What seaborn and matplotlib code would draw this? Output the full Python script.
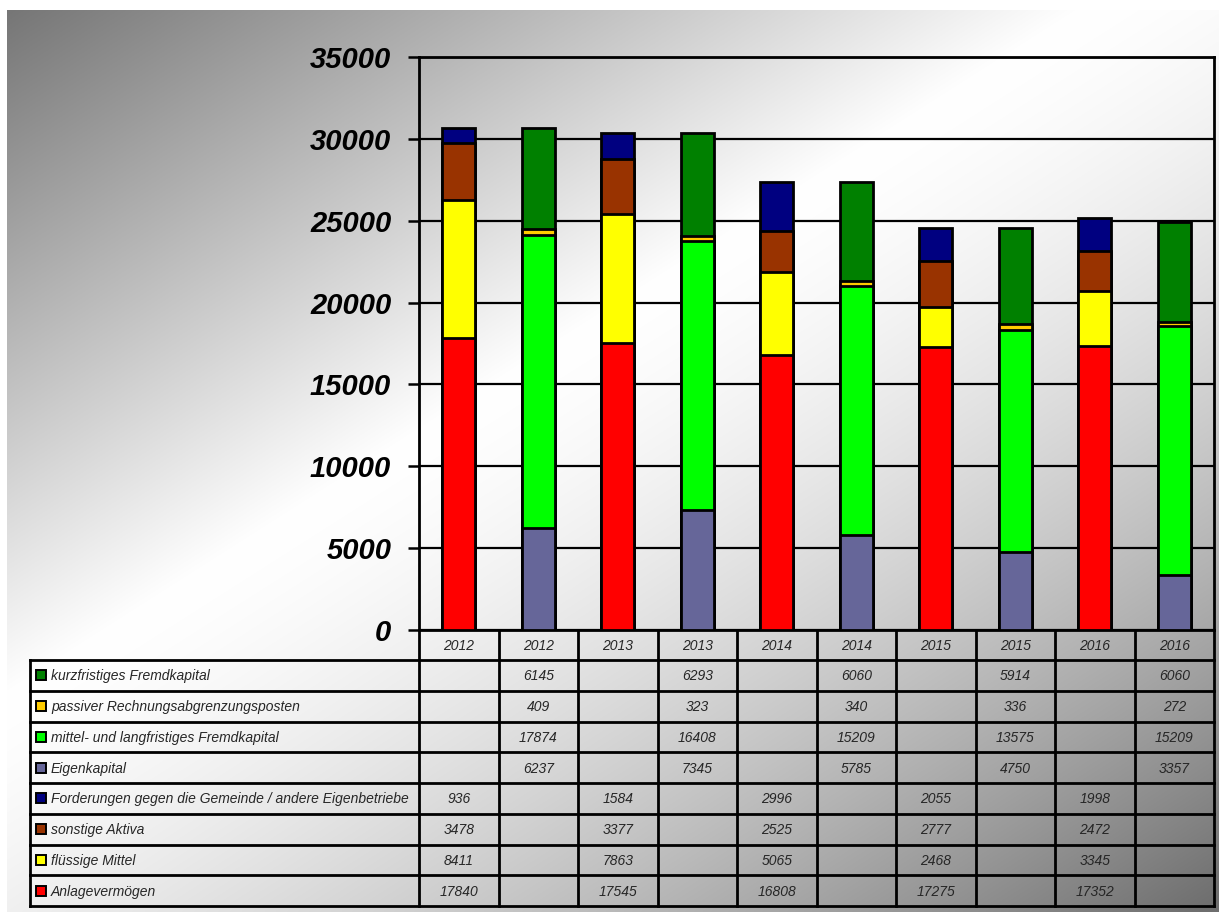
import numpy as np
import pandas as pd
import matplotlib
matplotlib.use("Agg")
import matplotlib.pyplot as plt
import seaborn as sns
from matplotlib import font_manager as fm
from matplotlib.patches import Rectangle

# ---------------- data ----------------
years = ["2012", "2012", "2013", "2013", "2014", "2014", "2015", "2015", "2016", "2016"]
series_names = [
    "Anlagevermögen",
    "flüssige Mittel",
    "sonstige Aktiva",
    "Forderungen gegen die Gemeinde / andere Eigenbetriebe",
    "Eigenkapital",
    "mittel- und langfristiges Fremdkapital",
    "passiver Rechnungsabgrenzungsposten",
    "kurzfristiges Fremdkapital",
]
anlage = [17840, None, 17545, None, 16808, None, 17275, None, 17352, None]
fluessig = [8411, None, 7863, None, 5065, None, 2468, None, 3345, None]
sonstige = [3478, None, 3377, None, 2525, None, 2777, None, 2472, None]
forder = [936, None, 1584, None, 2996, None, 2055, None, 1998, None]
eigen = [None, 6237, None, 7345, None, 5785, None, 4750, None, 3357]
mittel = [None, 17874, None, 16408, None, 15209, None, 13575, None, 15209]
prap = [None, 409, None, 323, None, 340, None, 336, None, 272]
kurz = [None, 6145, None, 6293, None, 6060, None, 5914, None, 6060]
series_values = [anlage, fluessig, sonstige, forder, eigen, mittel, prap, kurz]
colors = ["#FF0000", "#FFFF00", "#993300", "#000080", "#666699", "#00FF00", "#FFCC00", "#008000"]
yticks = [0, 5000, 10000, 15000, 20000, 25000, 30000, 35000]

# ---------------- fonts ----------------
avail = {f.name for f in fm.fontManager.ttflist}
narrow = "Liberation Sans Narrow" if "Liberation Sans Narrow" in avail else "Liberation Sans"
tab_size = 12 if narrow == "Liberation Sans Narrow" else 10

sns.set_style("white")
plt.rcParams["font.family"] = ["Liberation Sans", "DejaVu Sans"]

W, H = 1226, 921
fig = plt.figure(figsize=(W / 100, H / 100), dpi=100)
fig.patch.set_facecolor("white")

# ---------------- gradient background ----------------
bx0, by0, bx1, by1 = 7, 10, 1219, 912
bg = fig.add_axes([bx0 / W, 1 - by1 / H, (bx1 - bx0) / W, (by1 - by0) / H], zorder=-10)
px, py = np.meshgrid(np.linspace(bx0, bx1, 500), np.linspace(by0, by1, 400))
t = px / 1100.0 + py / 700.0
v = np.where(t < 1.0, 115 + 140 * t, 255 - 145 * np.clip((t - 1.0) / 1.4, 0, 1) ** 1.5)
v = np.clip(v, 0, 255) / 255.0
bg.imshow(np.dstack([v, v, v]), aspect="auto", extent=[0, 1, 1, 0], interpolation="bilinear")
bg.axis("off")

# ---------------- main axes ----------------
L, R, T, B = 419, 1214, 57, 630
ax = fig.add_axes([L / W, 1 - B / H, (R - L) / W, (B - T) / H])
ax.patch.set_alpha(0)

cols = list(range(len(years)))
vals = pd.DataFrame({n: pd.to_numeric(pd.Series(s, dtype="float")) for n, s in zip(series_names, series_values)})
cum = vals.fillna(0).cumsum(axis=1)

for i in reversed(range(len(series_names))):
    name = series_names[i]
    h = cum[name].where(vals[name].notna())
    df = pd.DataFrame({"col": cols, "h": h}).dropna()
    sns.barplot(data=df, x="col", y="h", order=cols, color=colors[i], saturation=1,
                edgecolor="black", linewidth=2.0, width=0.42, errorbar=None, ax=ax, zorder=3)

ax.set_ylim(0, 35000)
ax.set_xlim(-0.5, len(cols) - 0.5)
ax.set_yticks(yticks)
ax.set_yticklabels([str(v) for v in yticks], fontsize=21, fontweight="bold", fontstyle="italic")
ax.tick_params(axis="y", direction="out", length=8, width=1.8, pad=12, colors="black", left=True)
ax.tick_params(axis="x", length=0, labelbottom=False)
ax.set_xlabel("")
ax.set_ylabel("")
ax.grid(axis="y", color="black", linewidth=1.6, zorder=1)
ax.set_axisbelow(True)
for s in ax.spines.values():
    s.set_visible(True)
    s.set_color("black")
    s.set_linewidth(2.0)

# ---------------- data table ----------------
tax = fig.add_axes([0, 0, 1, 1], zorder=5)
tax.set_xlim(0, W)
tax.set_ylim(H, 0)
tax.axis("off")
tax.patch.set_alpha(0)

xlab = 30
colw = (R - L) / len(cols)
head_top, head_bot = B, 660
row_h = 30.75
n_rows = len(series_names)
y_bottom = head_bot + n_rows * row_h
lw = 2.0

for k in range(len(cols) + 1):
    x = L + k * colw
    tax.plot([x, x], [head_top, y_bottom], color="black", lw=lw, solid_capstyle="projecting")
tax.plot([xlab, xlab], [head_bot, y_bottom], color="black", lw=lw, solid_capstyle="projecting")
for r in range(n_rows + 1):
    y = head_bot + r * row_h
    tax.plot([xlab, R], [y, y], color="black", lw=lw, solid_capstyle="projecting")

fam = [narrow, "DejaVu Sans"]
for k, yr in enumerate(years):
    tax.text(L + (k + 0.5) * colw, (head_top + head_bot) / 2 + 1, yr, ha="center", va="center",
             fontsize=tab_size, fontstyle="italic", family=fam)

row_order = list(reversed(range(len(series_names))))
for r, si in enumerate(row_order):
    yc = head_bot + (r + 0.5) * row_h
    sq = 10
    tax.add_patch(Rectangle((36, yc - sq / 2), sq, sq, facecolor=colors[si], edgecolor="black", lw=1.4))
    tax.text(51, yc + 1, series_names[si], ha="left", va="center", fontsize=tab_size,
             fontstyle="italic", family=fam)
    for k in cols:
        v = series_values[si][k]
        if v is not None:
            tax.text(L + (k + 0.5) * colw, yc + 1, str(v), ha="center", va="center",
                     fontsize=tab_size, fontstyle="italic", family=fam)

fig.savefig("out.png", dpi=100)
